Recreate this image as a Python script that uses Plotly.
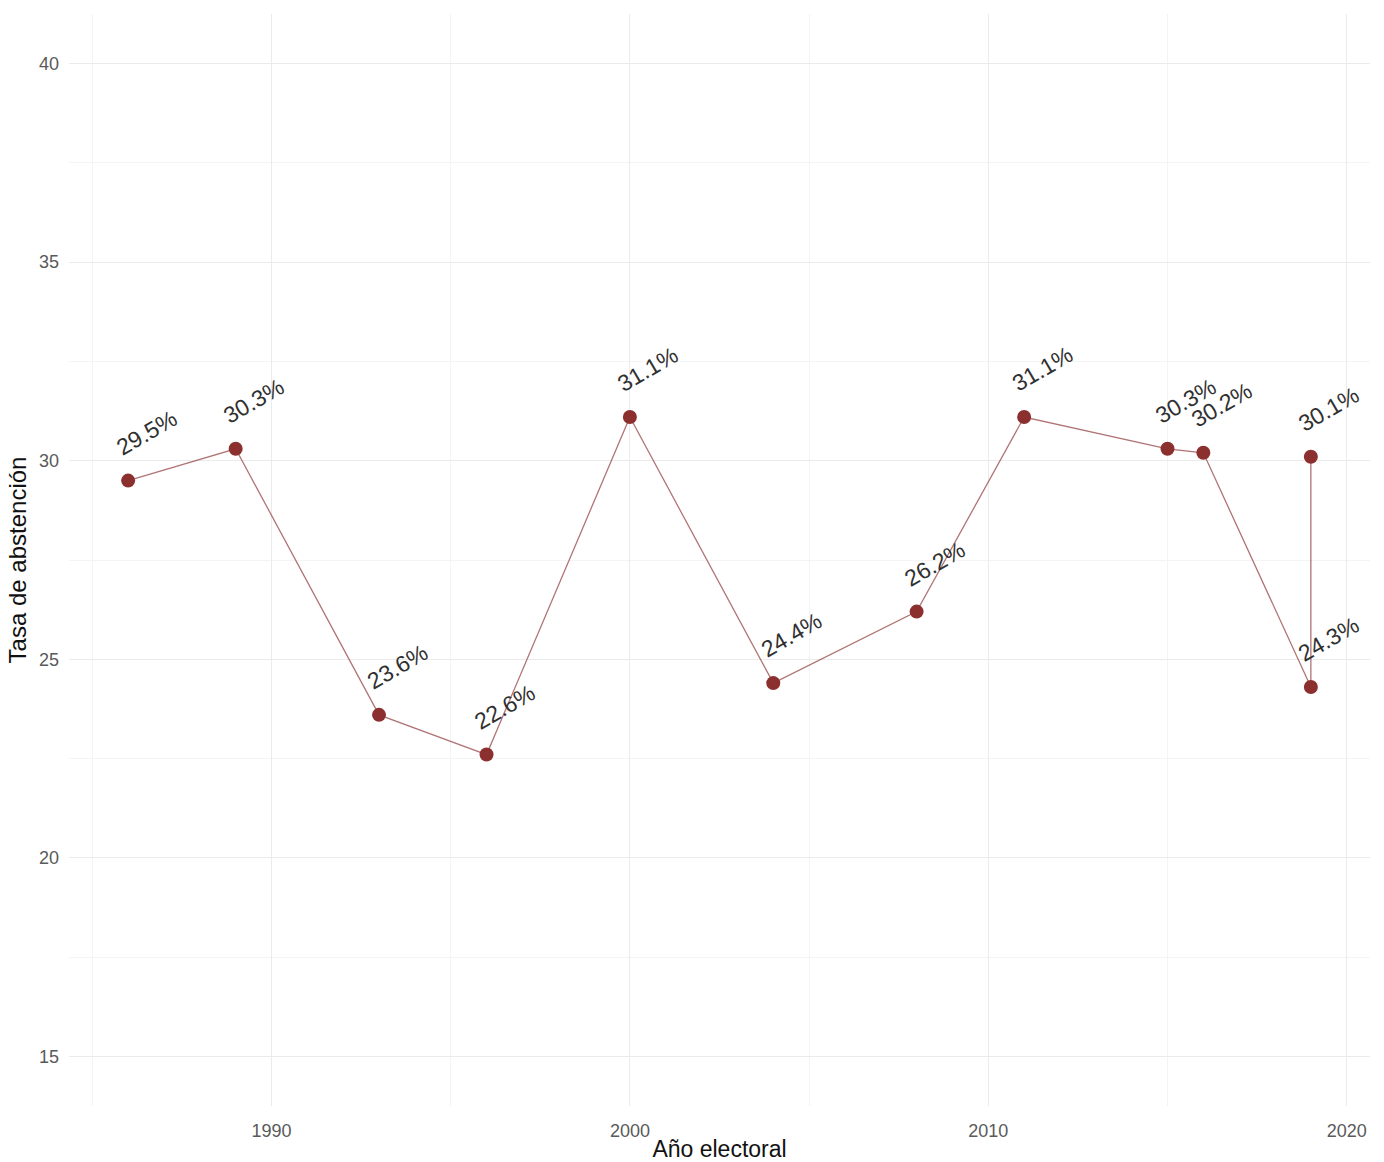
import plotly.graph_objects as go

# Elecciones generales y tasa de abstención (%)
anios = [1986, 1989, 1993, 1996, 2000, 2004, 2008, 2011, 2015, 2016, 2019, 2019]
abstencion = [29.5, 30.3, 23.6, 22.6, 31.1, 24.4, 26.2, 31.1, 30.3, 30.2, 24.3, 30.1]
etiquetas = [f"{v:.1f}%" for v in abstencion]

x_ticks = [1990, 2000, 2010, 2020]
y_ticks = [15, 20, 25, 30, 35, 40]

COLOR_PUNTO = "#8b2f2f"
COLOR_LINEA = "rgba(150, 70, 70, 0.75)"
FUENTE = "Liberation Sans, Arial, sans-serif"

fig = go.Figure()

fig.add_trace(go.Scatter(
    x=anios, y=abstencion,
    mode="lines",
    line=dict(color=COLOR_LINEA, width=1.3),
    hoverinfo="skip",
    showlegend=False,
))
fig.add_trace(go.Scatter(
    x=anios, y=abstencion,
    mode="markers",
    marker=dict(color=COLOR_PUNTO, size=14),
    showlegend=False,
))

# Etiquetas de valor giradas sobre cada punto
for xa, ya, txt in zip(anios, abstencion, etiquetas):
    fig.add_annotation(
        x=xa, y=ya, text=txt, showarrow=False,
        textangle=-30, xshift=18, yshift=48,
        font=dict(family=FUENTE, size=23, color="#303030"),
    )

grid_major = "#ebebeb"
grid_minor = "#f4f4f4"

fig.update_layout(
    width=1384, height=1162,
    margin=dict(l=69, r=14, t=14, b=56),
    paper_bgcolor="white",
    plot_bgcolor="white",
    font=dict(family=FUENTE),
    xaxis=dict(
        range=[1984.35, 2020.65],
        tickvals=x_ticks,
        ticktext=[str(t) for t in x_ticks],
        showgrid=True, gridcolor=grid_major, gridwidth=1,
        minor=dict(tickvals=[1985, 1995, 2005, 2015], showgrid=True,
                   gridcolor=grid_minor, gridwidth=1),
        zeroline=False, showline=False, ticks="",
        automargin=False,
        ticklabelstandoff=12,
        tickfont=dict(size=18, color="#5a5a5a"),
        title=dict(text="Año electoral", font=dict(size=23, color="#111111"),
                   standoff=4),
    ),
    yaxis=dict(
        range=[13.75, 41.25],
        tickvals=y_ticks,
        ticktext=[str(t) for t in y_ticks],
        showgrid=True, gridcolor=grid_major, gridwidth=1,
        minor=dict(tickvals=[17.5, 22.5, 27.5, 32.5, 37.5], showgrid=True,
                   gridcolor=grid_minor, gridwidth=1),
        zeroline=False, showline=False, ticks="",
        automargin=False,
        ticklabelstandoff=9,
        tickfont=dict(size=18, color="#5a5a5a"),
        title=dict(text="Tasa de abstención", font=dict(size=24, color="#111111"),
                   standoff=5),
    ),
)

fig.write_html("out.html")
